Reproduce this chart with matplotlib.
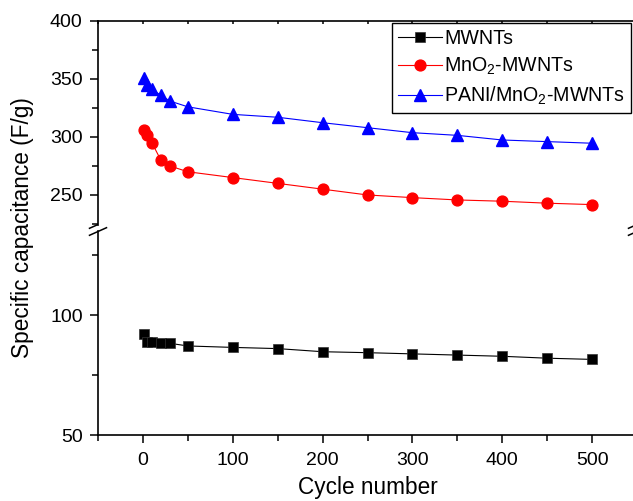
import matplotlib
matplotlib.use("Agg")
import matplotlib.pyplot as plt
from matplotlib.lines import Line2D
from matplotlib.patches import Rectangle
from matplotlib.ticker import MultipleLocator

plt.rcParams['font.family'] = ['Liberation Sans', 'DejaVu Sans']
plt.rcParams['mathtext.default'] = 'regular'

cycles = [1, 5, 10, 20, 30, 50, 100, 150, 200, 250, 300, 350, 400, 450, 500]
mwnts = [92, 88.9, 88.6, 88.4, 88.2, 87.1, 86.5, 86.0, 84.7, 84.3, 83.8, 83.3, 82.8, 82.0, 81.5]
mno2 = [306, 301.5, 295, 280, 275, 270, 265, 260, 255, 250, 247.7, 245.7, 244.6, 242.9, 241.7]
pani = [350.5, 345, 341, 336, 331, 326, 319.5, 317, 312.3, 308, 303.7, 301.4, 297.4, 296, 294.6]
labels = ['MWNTs', 'MnO$_2$-MWNTs', 'PANI/MnO$_2$-MWNTs']

W, H = 633, 501
fig = plt.figure(figsize=(W / 100, H / 100), dpi=100)

def fx(px):
    return px / W

def fy(py):
    return 1 - py / H

left, right = 98, 637
ax_up = fig.add_axes([fx(left), fy(225), fx(right) - fx(left), fy(21) - fy(225)])
ax_lo = fig.add_axes([fx(left), fy(435), fx(right) - fx(left), fy(231) - fy(435)], sharex=ax_up)

lw = 0.8
h1, = ax_lo.plot(cycles, mwnts, color='black', marker='s', ms=7.3, lw=lw, mec='#333333', mew=0.5)
h2, = ax_up.plot(cycles, mno2, color='red', marker='o', ms=7.8, lw=lw)
h3, = ax_up.plot(cycles, pani, color='blue', marker='^', ms=8.5, lw=lw)

ax_up.set_ylim(224.1, 400)
ax_lo.set_ylim(50, 135)
ax_lo.set_xlim(-50, 550)

for ax in (ax_up, ax_lo):
    ax.spines['right'].set_visible(False)
    for s in ax.spines.values():
        s.set_linewidth(1.2)
    ax.tick_params(which='major', direction='out', length=6, width=1.1, labelsize=14)
    ax.tick_params(which='minor', direction='out', length=4, width=1.1)
    ax.tick_params(axis='y', which='major', pad=5)
    ax.tick_params(axis='x', which='major', pad=6)
    ax.xaxis.set_major_locator(MultipleLocator(100))
    ax.xaxis.set_minor_locator(MultipleLocator(50))

ax_up.spines['bottom'].set_visible(False)
ax_up.tick_params(axis='x', which='both', bottom=False, labelbottom=False, top=True, length=2, direction='in')
ax_lo.spines['top'].set_visible(False)
ax_lo.tick_params(axis='x', which='both', top=False)

ax_up.yaxis.set_major_locator(MultipleLocator(50))
ax_up.yaxis.set_minor_locator(MultipleLocator(25))
ax_lo.yaxis.set_major_locator(MultipleLocator(50))
ax_lo.yaxis.set_minor_locator(MultipleLocator(25))

ax_lo.set_xlabel('Cycle number', fontsize=16.3, labelpad=5)
fig.text(fx(23), fy(228), 'Specific capacitance (F/g)', rotation=90, fontsize=16.3,
         ha='center', va='center')

# break marks
for xc in (left, right):
    for yc in (224.5, 231.5):
        fig.add_artist(Line2D([fx(xc - 8.5), fx(xc + 8.5)], [fy(yc + 3.8), fy(yc - 3.8)],
                              color='black', lw=1.1))

leg = ax_up.legend([h1, h2, h3], labels, loc='upper left',
                   bbox_to_anchor=(fx(392), fy(23)), bbox_transform=fig.transFigure,
                   fontsize=14.1, frameon=True, fancybox=False, framealpha=1,
                   edgecolor='black', handlelength=2.25, handletextpad=0.12,
                   labelspacing=0.4, borderpad=0.3, borderaxespad=0)
leg.get_frame().set_linewidth(1.0)

fig.canvas.draw()
bb = leg.get_window_extent().transformed(fig.transFigure.inverted())
sh = Rectangle((bb.x0 + 6 / W, bb.y0 - 5 / H), bb.width, bb.height,
               transform=fig.transFigure, facecolor='black', edgecolor='none', zorder=4)
leg.set_zorder(5)
ax_up.set_zorder(3)
fig.add_artist(sh)
sh.set_zorder(2.5)

fig.savefig('out.png', dpi=100)
